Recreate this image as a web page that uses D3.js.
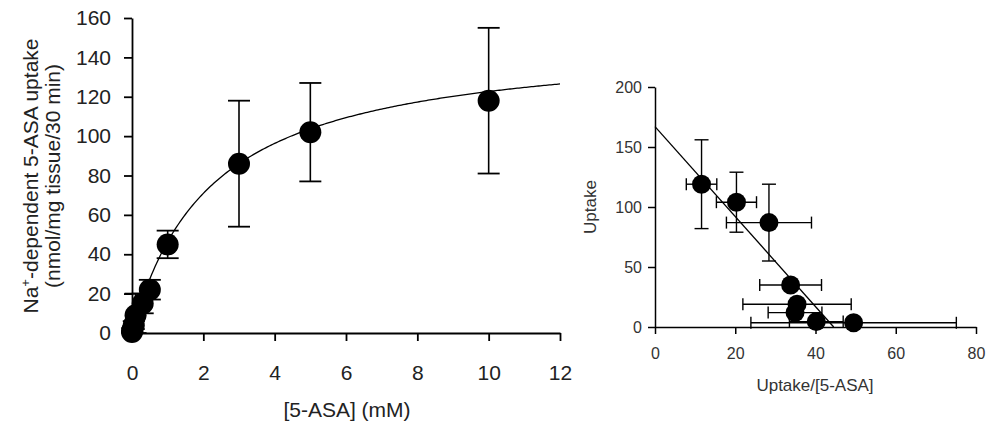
<!DOCTYPE html>
<html>
<head>
<meta charset="utf-8">
<script src="https://cdn.jsdelivr.net/npm/d3@7"></script>
<style>
  body { margin: 0; background: #fff; }
  svg { font-family: "Liberation Sans", Arial, sans-serif; }
</style>
</head>
<body>
<svg width="989" height="423"></svg>
<script>
// saturation data: [5-ASA] (mM), uptake and SEM
const conc = [0, 0.01, 0.05, 0.1, 0.3, 0.5, 1, 3, 5, 10]
const uptake = [0.5, 1.5, 4, 9, 15, 22, 45, 86, 102, 118]
const uptakeErr = [0.3, 1, 2, 11, 5, 5, 7, 32, 25, 37]
// Michaelis-Menten fit drawn through the left panel
const fitVmax = 150
const fitKm = 2.23

// Eadie-Hofstee panel: uptake/[5-ASA] vs uptake
const ehX = [11.6, 20.3, 28.4, 33.8, 35.4, 34.9, 40.2, 49.5]
const ehXErr = [3.8, 5, 10.6, 7.7, 13.5, 6.7, 6.7, 25.6]
const ehY = [119, 104, 87, 35, 19, 12, 4.5, 3.5]
const ehYErr = [37, 25, 32, 0, 0, 0, 0, 0]
// regression line: intercept and slope
const ehIntercept = 167
const ehSlope = -3.75

const leftXTicks = [0, 2, 4, 6, 8, 10, 12]
const leftYTicks = [0, 20, 40, 60, 80, 100, 120, 140, 160]
const rightXTicks = [0, 20, 40, 60, 80]
const rightYTicks = [0, 50, 100, 150, 200]

let svg = d3.select('svg')

// ---- left panel ----
let x1 = d3.scaleLinear().domain([0, 12]).range([132, 560])
let y1 = d3.scaleLinear().domain([0, 160]).range([333, 18])
let g1 = svg.append('g')

g1.append('g').attr('transform', 'translate(0,333)')
  .call(d3.axisBottom(x1).tickValues(leftXTicks).tickSize(8).tickPadding(24).tickSizeOuter(0))
g1.append('g').attr('transform', 'translate(132,0)')
  .call(d3.axisLeft(y1).tickValues(leftYTicks).tickSize(8).tickPadding(13).tickSizeOuter(0))
g1.selectAll('.domain, .tick line').attr('stroke', '#000').attr('stroke-width', 1.8)
g1.selectAll('.tick text').attr('font-size', 21).attr('fill', '#222')

// fitted curve
let curve = d3.range(0, 12.001, 0.05).map(s => [s, fitVmax * s / (fitKm + s)])
g1.append('path').datum(curve)
  .attr('fill', 'none').attr('stroke', '#000').attr('stroke-width', 1.3)
  .attr('d', d3.line().x(d => x1(d[0])).y(d => y1(d[1])))

// error bars
conc.forEach(function (c, i) {
  let e = uptakeErr[i]
  let cx = x1(c)
  let top = y1(uptake[i] + e), bot = y1(Math.max(0, uptake[i] - e))
  g1.append('line').attr('x1', cx).attr('x2', cx).attr('y1', top).attr('y2', bot)
    .attr('stroke', '#000').attr('stroke-width', 1.6)
  ;[top, bot].forEach(yy => g1.append('line').attr('x1', cx - 11).attr('x2', cx + 11)
    .attr('y1', yy).attr('y2', yy).attr('stroke', '#000').attr('stroke-width', 1.8))
})
g1.selectAll('circle.pt').data(conc).enter().append('circle')
  .attr('cx', d => x1(d)).attr('cy', (d, i) => y1(uptake[i])).attr('r', 11).attr('fill', '#000')

g1.append('text').attr('x', 347).attr('y', 417).attr('text-anchor', 'middle')
  .attr('font-size', 21).attr('fill', '#222').text('[5-ASA] (mM)')
let yt = g1.append('text').attr('transform', 'translate(38,176) rotate(-90)')
  .attr('text-anchor', 'middle').attr('font-size', 21).attr('fill', '#222')
yt.append('tspan').text('Na')
yt.append('tspan').attr('font-size', 13).attr('dy', -8).text('+')
yt.append('tspan').attr('dy', 8).text('-dependent 5-ASA uptake')
g1.append('text').attr('transform', 'translate(60,176) rotate(-90)')
  .attr('text-anchor', 'middle').attr('font-size', 21).attr('fill', '#222')
  .text('(nmol/mg tissue/30 min)')

// ---- right panel ----
let x2 = d3.scaleLinear().domain([0, 80]).range([655, 976])
let y2 = d3.scaleLinear().domain([0, 200]).range([327, 87])
let g2 = svg.append('g')

g2.append('g').attr('transform', 'translate(0,327)')
  .call(d3.axisBottom(x2).tickValues(rightXTicks).tickSize(7).tickPadding(14).tickSizeOuter(0))
g2.append('g').attr('transform', 'translate(655,0)')
  .call(d3.axisLeft(y2).tickValues(rightYTicks).tickSize(7).tickPadding(6).tickSizeOuter(0))
g2.selectAll('.domain, .tick line').attr('stroke', '#000').attr('stroke-width', 1.5)
g2.selectAll('.tick text').attr('font-size', 16).attr('fill', '#333')

// regression line
g2.append('line')
  .attr('x1', x2(0)).attr('y1', y2(ehIntercept))
  .attr('x2', x2(-ehIntercept / ehSlope)).attr('y2', y2(0))
  .attr('stroke', '#000').attr('stroke-width', 1.3)

ehX.forEach(function (v, i) {
  let cx = x2(v), cy = y2(ehY[i])
  let xl = x2(v - ehXErr[i]), xr = x2(v + ehXErr[i])
  g2.append('line').attr('x1', xl).attr('x2', xr).attr('y1', cy).attr('y2', cy)
    .attr('stroke', '#000').attr('stroke-width', 1.4)
  ;[xl, xr].forEach(xx => g2.append('line').attr('x1', xx).attr('x2', xx)
    .attr('y1', cy - 6).attr('y2', cy + 6).attr('stroke', '#000').attr('stroke-width', 1.4))
  if (ehYErr[i] > 0) {
    let top = y2(ehY[i] + ehYErr[i]), bot = y2(ehY[i] - ehYErr[i])
    g2.append('line').attr('x1', cx).attr('x2', cx).attr('y1', top).attr('y2', bot)
      .attr('stroke', '#000').attr('stroke-width', 1.4)
    ;[top, bot].forEach(yy => g2.append('line').attr('x1', cx - 7).attr('x2', cx + 7)
      .attr('y1', yy).attr('y2', yy).attr('stroke', '#000').attr('stroke-width', 1.4))
  }
})
g2.selectAll('circle.pt').data(ehX).enter().append('circle')
  .attr('cx', d => x2(d)).attr('cy', (d, i) => y2(ehY[i])).attr('r', 9.5).attr('fill', '#000')

g2.append('text').attr('x', 815).attr('y', 391).attr('text-anchor', 'middle')
  .attr('font-size', 17).attr('fill', '#333').text('Uptake/[5-ASA]')
g2.append('text').attr('transform', 'translate(596,207) rotate(-90)')
  .attr('text-anchor', 'middle').attr('font-size', 17).attr('fill', '#333').text('Uptake')
</script>
</body>
</html>
